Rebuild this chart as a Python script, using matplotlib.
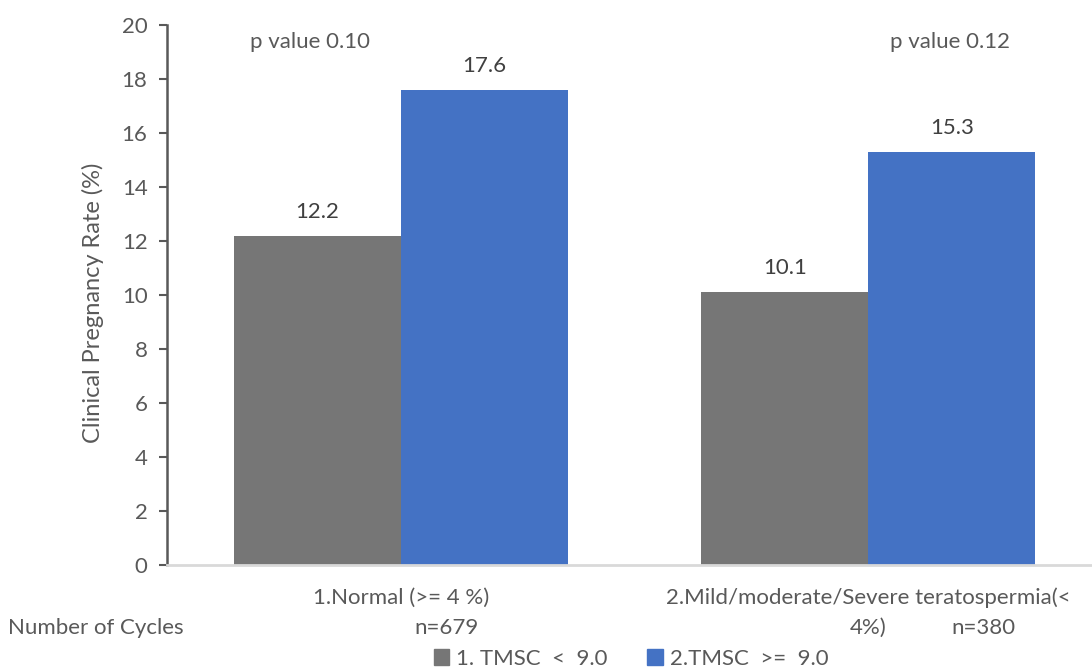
import matplotlib
matplotlib.use("Agg")
import matplotlib.pyplot as plt
import matplotlib.transforms as mtransforms
from matplotlib.patches import Patch

plt.rcParams['font.family'] = ['Lato', 'DejaVu Sans']

# clinical pregnancy rate by morphology group
groups = ["1.Normal (>= 4 %)", "2.Mild/moderate/Severe teratospermia(<"]
cycles = ["n=679", "n=380"]
series = ["1. TMSC  <  9.0", "2.TMSC  >=  9.0"]
low_tmsc = [12.2, 10.1]
high_tmsc = [17.6, 15.3]
p_values = ["p value 0.10", "p value 0.12"]

grey = "#767676"
blue = "#4472C4"
txt = "#595959"
fs = 16

W, H = 1092, 671
fig = plt.figure(figsize=(W / 100, H / 100), dpi=100)
ax = fig.add_axes([167 / W, 106 / H, (1102 - 167) / W, 540 / H])

x = [0, 1]
w = 0.357
b1 = ax.bar([i - w / 2 for i in x], low_tmsc, w, color=grey, label=series[0])
b2 = ax.bar([i + w / 2 for i in x], high_tmsc, w, color=blue, label=series[1])

for bars, vals in ((b1, low_tmsc), (b2, high_tmsc)):
    for r, v in zip(bars, vals):
        ax.annotate(f"{v:.1f}", (r.get_x() + r.get_width() / 2, v),
                    xytext=(0, 14), textcoords="offset pixels",
                    ha="center", va="bottom", fontsize=fs, color="#404040")

# p values above each pair
for xp, s in zip([-0.195, 1.175], p_values):
    ax.text(xp, 19.37, s, ha="center", va="center", fontsize=fs, color=txt)

ax.set_xlim(-0.5, 1.5)
ax.set_ylim(0, 20)
ax.set_yticks(range(0, 21, 2))
ax.set_xticks([])
ax.tick_params(axis="y", direction="out", length=6, width=1.5, color=txt,
               labelsize=fs, labelcolor=txt, pad=8)
for s in ("top", "right"):
    ax.spines[s].set_visible(False)
ax.spines["left"].set_color(txt)
ax.spines["left"].set_linewidth(1.8)
ax.spines["bottom"].set_color("#d9d9d9")
ax.spines["bottom"].set_linewidth(2)

# category labels under the axis
tr = mtransforms.blended_transform_factory(ax.transData, fig.transFigure)
y1 = 1 - 598 / H
y2 = 1 - 628 / H
ax.text(0, y1, groups[0], transform=tr, ha="center", va="center", fontsize=fs, color=txt)
ax.text(1, y1, groups[1], transform=tr, ha="center", va="center", fontsize=fs, color=txt)
ax.text(0.03, y2, cycles[0], transform=tr, ha="left", va="center", fontsize=fs, color=txt)
ax.text(1.0, y2, "4%)", transform=tr, ha="center", va="center", fontsize=fs, color=txt)
ax.text(1.178, y2, cycles[1], transform=tr, ha="left", va="center", fontsize=fs, color=txt)
fig.text(8 / W, y2, "Number of Cycles", ha="left", va="center", fontsize=16, color=txt)

fig.text(93 / W, 1 - 303 / H, "Clinical Pregnancy Rate (%)", rotation=90,
         ha="center", va="center", fontsize=17, color=txt)

handles = [Patch(color=grey, label=series[0]), Patch(color=blue, label=series[1])]
fig.legend(handles=handles, loc="center", bbox_to_anchor=(631 / W, 12 / H), ncol=2,
           frameon=False, fontsize=fs, labelcolor=txt, handlelength=0.7,
           handleheight=0.7, handletextpad=0.3, columnspacing=1.8)

fig.savefig("out.png", dpi=100, facecolor="white")
